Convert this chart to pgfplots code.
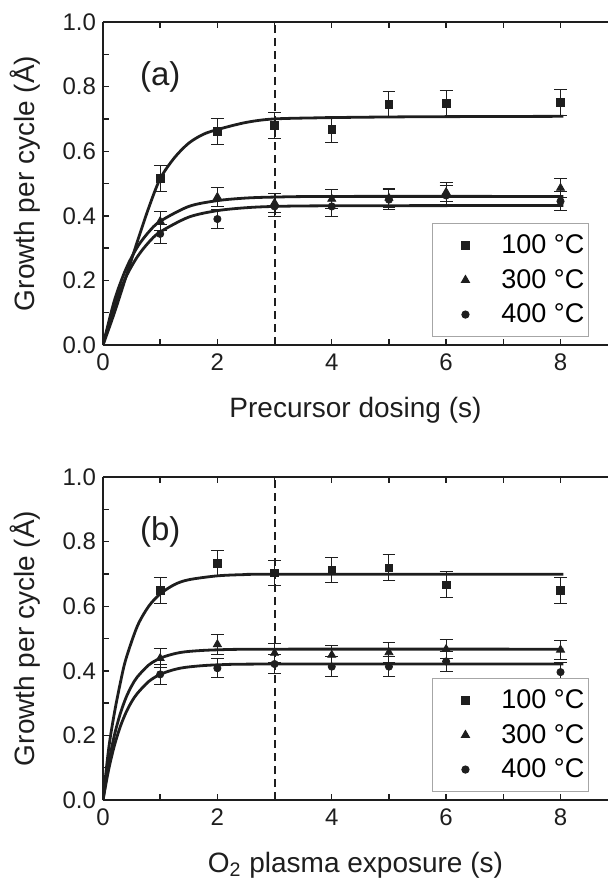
\documentclass[border=0pt]{standalone}
\usepackage{fontspec}
\setmainfont{Liberation Sans}
\usepackage{pgfplots}
\pgfplotsset{compat=1.18}
\usepackage{pgfplotstable}

% (a) precursor dosing: measured GPC with error
\pgfplotstableread{
x y e
1 0.515 0.040
2 0.662 0.040
3 0.680 0.040
4 0.668 0.040
5 0.745 0.040
6 0.748 0.040
8 0.752 0.040
}\aHund
\pgfplotstableread{
x y e
1 0.383 0.030
2 0.458 0.030
3 0.440 0.030
4 0.452 0.030
5 0.455 0.030
6 0.473 0.030
8 0.486 0.030
}\aThree
\pgfplotstableread{
x y e
1 0.344 0.030
2 0.390 0.030
3 0.429 0.030
4 0.429 0.030
5 0.450 0.030
6 0.463 0.030
8 0.445 0.030
}\aFour
% (b) O2 plasma exposure
\pgfplotstableread{
x y e
1 0.649 0.040
2 0.732 0.040
3 0.703 0.040
4 0.712 0.040
5 0.719 0.040
6 0.666 0.040
8 0.649 0.040
}\bHund
\pgfplotstableread{
x y e
1 0.439 0.030
2 0.482 0.030
3 0.455 0.030
4 0.449 0.030
5 0.457 0.030
6 0.467 0.030
8 0.465 0.030
}\bThree
\pgfplotstableread{
x y e
1 0.389 0.030
2 0.408 0.030
3 0.421 0.030
4 0.413 0.030
5 0.413 0.030
6 0.429 0.030
8 0.396 0.030
}\bFour

\definecolor{ink}{HTML}{1E1E1E}

\pgfplotsset{
  gpc/.style={
    scale only axis, width=252.5pt, height=161.5pt,
    xmin=0, xmax=8.83, ymin=0, ymax=1,
    axis x line*=box, axis y line*=left,
    axis line style={line width=0.9pt, ink, -},
    xtick={0,2,4,6,8}, minor xtick={1,3,5,7},
    ytick={0,0.2,0.4,0.6,0.8,1.0}, minor ytick={0.1,0.3,0.5,0.7,0.9},
    tick align=inside, major tick length=3pt, minor tick length=3pt,
    tick style={line width=0.7pt, ink},
    /pgf/number format/assume math mode=true,
    tick label style={font=\fontsize{12}{14}\selectfont, text=ink},
    yticklabel style={/pgf/number format/.cd, fixed, fixed zerofill, precision=1},
    xticklabel style={yshift=-1pt},
    ylabel={Growth per cycle (Å)},
    every axis y label/.style={at={(axis description cs:-0.135,0.5)}, rotate=90, anchor=base, font=\fontsize{14}{16}\selectfont, text=ink},
    every axis x label/.style={at={(axis description cs:0.5,0)}, anchor=base, yshift=-36pt, font=\fontsize{14}{16}\selectfont, text=ink},
    legend style={at={(0.962,0.0248)}, anchor=south east, draw=gray!70, line width=0.5pt,
      font=\fontsize{13.5}{15}\selectfont, row sep=6.3pt, column sep=0pt,
      inner xsep=2pt, inner ysep=5.5pt, nodes={inner sep=0pt}},
    legend cell align=left,
    fitline/.style={no markers, ink, line width=1.4pt, smooth, forget plot},
    err/.style={only marks, ink, mark options={fill=ink, draw=ink},
      legend image code/.code={\path[draw=none, fill=none] (-14.5pt,0pt) -- (18pt,0pt);
        \draw[##1, only marks] plot coordinates {(0pt,0pt)};},
      error bars/y dir=both, error bars/y explicit,
      error bars/error bar style={line width=0.5pt, ink},
      error bars/error mark options={rotate=90, mark size=3.2pt, line width=0.5pt, ink}},
    vline/.style={ink, line width=1pt, dash pattern=on 4pt off 2.5pt, forget plot},
  },
}

\begin{document}
\begin{tikzpicture}
\begin{axis}[gpc, at={(0,0)}, anchor=south west, xlabel={Precursor dosing (s)}]
\addplot[vline] coordinates {(3,0) (3,1)};
\addplot[fitline] coordinates {(0,0) (0.2,0.10) (0.4,0.21) (0.6,0.32) (0.8,0.425) (1,0.515) (1.25,0.58) (1.5,0.625) (1.75,0.652) (2,0.667) (2.5,0.689) (3,0.700) (4,0.704) (5,0.706) (6,0.707) (8.05,0.708)};
\addplot[fitline] coordinates {(0,0) (0.2,0.138) (0.4,0.235) (0.6,0.303) (0.8,0.350) (1,0.383) (1.5,0.429) (2,0.447) (2.5,0.455) (3,0.458) (4,0.460) (8.05,0.460)};
\addplot[fitline] coordinates {(0,0) (0.2,0.122) (0.4,0.210) (0.6,0.273) (0.8,0.318) (1,0.350) (1.5,0.396) (2,0.416) (2.5,0.425) (3,0.429) (4,0.431) (8.05,0.432)};
\addplot[err, mark=square*, mark size=1.9pt] table[x=x, y=y, y error=e] {\aHund};
\addplot[err, mark=triangle*, mark size=2.3pt] table[x=x, y=y, y error=e] {\aThree};
\addplot[err, mark=*, mark size=1.8pt] table[x=x, y=y, y error=e] {\aFour};
\legend{100 °C, 300 °C, 400 °C}
\node[font=\fontsize{16.5}{18}\selectfont, text=ink] at (axis cs:1.0,0.83) {(a)};
\end{axis}

\begin{axis}[gpc, at={(0,-227.5pt)}, anchor=south west, xlabel={O\textsubscript{2} plasma exposure (s)}]
\addplot[vline] coordinates {(3,0) (3,1)};
\addplot[fitline] coordinates {(0,0) (0.1,0.16) (0.2,0.27) (0.3,0.36) (0.4,0.436) (0.6,0.538) (0.8,0.600) (1,0.638) (1.25,0.667) (1.5,0.682) (2,0.694) (2.5,0.698) (3,0.699) (8.05,0.699)};
\addplot[fitline] coordinates {(0,0) (0.1,0.115) (0.2,0.201) (0.3,0.266) (0.4,0.316) (0.5,0.353) (0.6,0.381) (0.8,0.418) (1,0.439) (1.25,0.453) (1.5,0.460) (2,0.465) (3,0.467) (8.05,0.467)};
\addplot[fitline] coordinates {(0,0) (0.1,0.095) (0.2,0.169) (0.3,0.226) (0.4,0.270) (0.5,0.304) (0.6,0.330) (0.8,0.367) (1,0.389) (1.25,0.404) (1.5,0.412) (2,0.4185) (3,0.421) (8.05,0.421)};
\addplot[err, mark=square*, mark size=1.9pt] table[x=x, y=y, y error=e] {\bHund};
\addplot[err, mark=triangle*, mark size=2.3pt] table[x=x, y=y, y error=e] {\bThree};
\addplot[err, mark=*, mark size=1.8pt] table[x=x, y=y, y error=e] {\bFour};
\legend{100 °C, 300 °C, 400 °C}
\node[font=\fontsize{16.5}{18}\selectfont, text=ink] at (axis cs:1.0,0.83) {(b)};
\end{axis}
\pgfresetboundingbox
\useasboundingbox (-51.5pt,-267.5pt) rectangle (252.5pt,172.5pt);
\end{tikzpicture}
\end{document}
